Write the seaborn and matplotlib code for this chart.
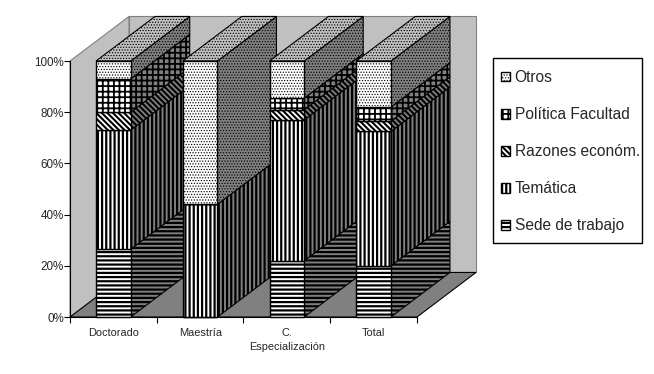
import matplotlib
matplotlib.use('Agg')
import matplotlib.pyplot as plt
import pandas as pd
import seaborn as sns
from matplotlib.patches import Patch, Polygon, Rectangle

categories = ['Doctorado', 'Maestría', 'C.\nEspecialización', 'Total']
sede = [26.5, 0, 22, 20]
tematica = [46.5, 44, 55, 52.5]
razones = [7, 0, 4, 4]
politica = [13, 0, 4.5, 5.5]
otros = [7, 56, 14.5, 18]
series_names = ['Sede de trabajo', 'Temática', 'Razones económ.', 'Política Facultad', 'Otros']
series_values = [sede, tematica, razones, politica, otros]
yticks = [0, 20, 40, 60, 80, 100]

# hatch and hatch line width for each series
hatches = ['----', '||||', '\\' * 6, '+++', '......']
hatch_lw = [1.6, 1.6, 1.5, 1.3, 0.55]

W, H = 654, 374
BAR_W = 0.4
DX, DY = 0.68, 17.4  # depth of the fake 3d, in data units

sns.set_style('white')
plt.rcParams['font.family'] = ['Liberation Sans', 'DejaVu Sans']

fig = plt.figure(figsize=(W / 100, H / 100), dpi=100, facecolor='white')
ax = fig.add_axes([70 / W, 1 - 317 / H, 347 / W, 256 / H])


def set_hatch_lw(patch, lw):
    # matplotlib 3.10 keeps the hatch width on the patch, no public setter
    patch._hatch_linewidth = lw


def face(pts, fc, ec='black', hatch=None, lw=0.8, z=1, hlw=None):
    p = Polygon(pts, closed=True, facecolor=fc, edgecolor=ec, hatch=hatch,
                linewidth=lw, zorder=z, clip_on=False)
    ax.add_patch(p)
    if hlw:
        set_hatch_lw(p, hlw)
    return p


# front bars
bottom = [0] * len(categories)
for i, vals in enumerate(series_values):
    df = pd.DataFrame({'cat': categories, 'val': vals, 'bot': bottom})
    n0 = len(ax.patches)
    sns.barplot(data=df, x='cat', y='val', bottom=df['bot'].values, width=BAR_W, color='white',
                saturation=1, edgecolor='black', linewidth=1.0, hatch=hatches[i], ax=ax, zorder=50)
    for bar in ax.patches[n0:]:
        set_hatch_lw(bar, hatch_lw[i])
        bar.set_clip_on(False)
    bottom = [b + v for b, v in zip(bottom, vals)]

x0, x1 = -0.5, len(categories) - 0.5
y0, y1 = 0, 100
ax.set_xlim(x0, x1)
ax.set_ylim(y0, y1)

# walls and floor
face([(x0 + DX, y0 + DY), (x1 + DX, y0 + DY), (x1 + DX, y1 + DY), (x0 + DX, y1 + DY)], '#c0c0c0', '#808080', z=0.1)
face([(x0, y0), (x0 + DX, y0 + DY), (x0 + DX, y1 + DY), (x0, y1)], '#c0c0c0', '#808080', z=0.2)
face([(x0, y0), (x1, y0), (x1 + DX, y0 + DY), (x0 + DX, y0 + DY)], '#808080', 'black', z=0.3)

# side and top faces of each stack
for c in range(len(categories)):
    xr = c + BAR_W / 2
    xl = c - BAR_W / 2
    b = 0
    for i, vals in enumerate(series_values):
        v = vals[c]
        if v > 0:
            face([(xr, b), (xr + DX, b + DY), (xr + DX, b + v + DY), (xr, b + v)], '#808080',
                 hatch=hatches[i], z=2 + c, hlw=hatch_lw[i])
        b += v
    face([(xl, b), (xr, b), (xr + DX, b + DY), (xl + DX, b + DY)], '#c0c0c0',
         hatch=hatches[-1], z=2 + c, hlw=hatch_lw[-1])

ax.set_xlabel('')
ax.set_ylabel('')
ax.set_yticks(yticks)
ax.set_yticklabels([f'{t}%' for t in yticks], fontsize=8.4)
ax.set_xticks(range(len(categories)))
ax.set_xticklabels(categories, fontsize=7.9, linespacing=1.5)
ax.set_xticks([x0 + k for k in range(len(categories) + 1)], minor=True)
ax.tick_params(axis='x', which='major', length=0, pad=8)
ax.tick_params(axis='x', which='minor', length=4, width=0.8, color='black', bottom=True)
ax.tick_params(axis='y', length=4, width=0.8, color='black', left=True, pad=0.5)
sns.despine(ax=ax, top=True, right=True)
for s in ['left', 'bottom']:
    ax.spines[s].set_color('black')
    ax.spines[s].set_linewidth(0.8)
    ax.spines[s].set_zorder(60)
ax.set_facecolor('none')

# legend box is a fixed size in the figure
fig.add_artist(Rectangle((493 / W, 1 - 243 / H), 149 / W, 185 / H, transform=fig.transFigure,
                         facecolor='white', edgecolor='black', linewidth=1.0))
handles = [Patch(facecolor='white', edgecolor='black', hatch=hatches[i], label=series_names[i])
           for i in reversed(range(len(series_names)))]
leg = fig.legend(handles=handles, loc='upper left', bbox_to_anchor=(501 / W, 1 - 70 / H),
                 frameon=False, fontsize=11.2, handlelength=0.6, handleheight=0.6,
                 handletextpad=0.28, labelspacing=1.42, borderpad=0, borderaxespad=0)
for key, i in zip(leg.get_patches(), reversed(range(len(series_names)))):
    set_hatch_lw(key, hatch_lw[i])

fig.savefig('out.png', dpi=100, facecolor='white')
